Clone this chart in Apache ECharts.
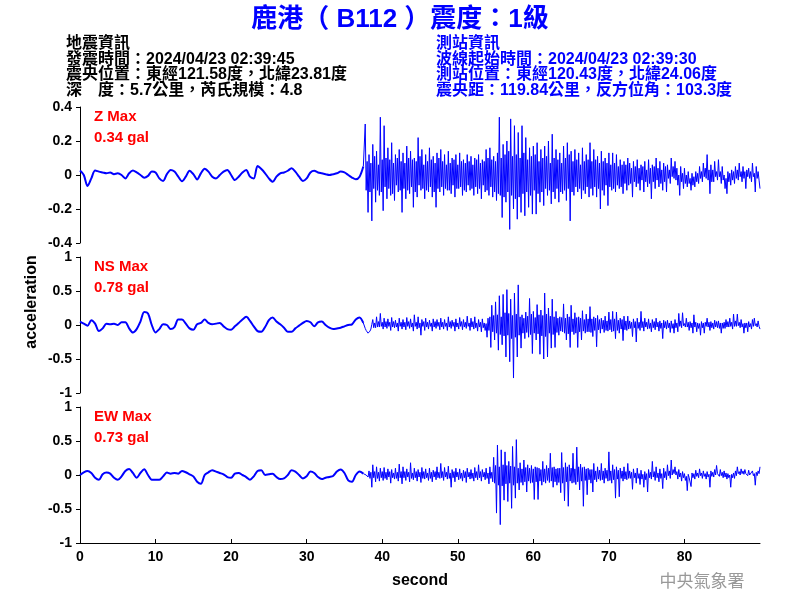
<!DOCTYPE html>
<html>
<head>
<meta charset="utf-8">
<script src="https://cdn.jsdelivr.net/npm/echarts@6/dist/echarts.min.js"></script>
<style>html,body{margin:0;padding:0;background:#fff;}#chart{width:800px;height:600px;}</style>
</head>
<body>
<div id="chart"></div>
<script>
// ---------- DATA (gal) ----------
// quiet pre-event segment: samples every 0.5 s from 0 s to 37.5 s
const quietStart = 0, quietStep = 0.5;
// strong-motion segment: samples every 0.125 s from 37.75 s to 90 s
const activeStart = 37.75, activeStep = 0.125;

const zQuiet = [0.026,0.0,-0.065,-0.02,0.026,0.02,0.015,0.01,0.015,0.005,
 0.01,0.0,-0.02,0.01,0.026,0.015,0.0,-0.016,-0.005,0.02,
 0.015,-0.02,-0.035,0.005,0.03,0.02,-0.01,-0.037,-0.01,0.025,
 0.005,-0.026,0.01,0.037,0.02,-0.01,-0.02,0.0,0.02,0.03,
 0.0,-0.03,-0.01,0.015,0.03,-0.01,-0.02,0.053,0.035,0.01,
 -0.02,-0.04,-0.01,0.01,0.015,0.025,0.04,0.02,-0.01,-0.035,
 -0.02,0.015,0.025,0.015,0.01,0.005,0.0,0.005,0.01,0.02,
 0.015,0.0,-0.015,-0.025,-0.01,0.05];
const zActive = [
 0.30,-0.09,0.08,-0.22,0.12,-0.10,0.07,-0.27,0.18,-0.08,0.11,-0.16,0.14,-0.09,0.06,-0.12,0.34,-0.10,0.09,-0.21,0.29,-0.07,0.10,-0.14,0.16,-0.08,0.09,-0.12,0.19,-0.11,0.07,-0.15,0.12,-0.06,0.10,-0.10,0.15,-0.09,0.08,-0.22,
 0.13,-0.08,0.07,-0.14,0.17,-0.09,0.10,-0.11,0.14,-0.07,0.09,-0.19,0.10,-0.10,0.08,-0.13,0.22,-0.06,0.11,-0.09,0.15,-0.08,0.06,-0.14,0.12,-0.09,0.08,-0.10,0.16,-0.07,0.09,-0.13,0.11,-0.10,0.07,-0.19,0.13,-0.08,0.10,-0.10,
 0.15,-0.07,0.08,-0.12,0.12,-0.08,0.06,-0.09,0.14,-0.09,0.07,-0.11,0.10,-0.06,0.09,-0.13,0.12,-0.08,0.06,-0.08,0.13,-0.07,0.08,-0.12,0.09,-0.09,0.07,-0.10,0.12,-0.06,0.08,-0.09,0.11,-0.08,0.06,-0.12,0.10,-0.07,0.09,-0.11,
 0.12,-0.08,0.07,-0.14,0.09,-0.06,0.08,-0.10,0.15,-0.09,0.10,-0.12,0.16,-0.07,0.09,-0.13,0.11,-0.10,0.08,-0.15,0.13,-0.11,0.34,-0.12,0.10,-0.25,0.18,-0.13,0.12,-0.16,0.20,-0.10,0.14,-0.32,0.33,-0.12,0.11,-0.20,0.29,-0.14,
 0.12,-0.26,0.25,-0.13,0.10,-0.22,0.29,-0.11,0.13,-0.24,0.22,-0.10,0.09,-0.19,0.16,-0.12,0.11,-0.23,0.17,-0.09,0.12,-0.23,0.19,-0.11,0.08,-0.16,0.15,-0.10,0.10,-0.18,0.17,-0.08,0.11,-0.12,0.20,-0.09,0.07,-0.17,0.24,-0.10,
 0.10,-0.14,0.15,-0.08,0.09,-0.16,0.13,-0.10,0.07,-0.11,0.17,-0.09,0.10,-0.15,0.19,-0.08,0.12,-0.27,0.14,-0.10,0.08,-0.12,0.15,-0.07,0.09,-0.10,0.13,-0.08,0.06,-0.14,0.16,-0.09,0.08,-0.11,0.12,-0.07,0.09,-0.13,0.19,-0.08,
 0.08,-0.12,0.15,-0.07,0.09,-0.13,0.11,-0.08,0.07,-0.20,0.14,-0.09,0.08,-0.12,0.10,-0.06,0.07,-0.18,0.13,-0.07,0.06,-0.09,0.13,-0.08,0.07,-0.10,0.12,-0.06,0.05,-0.08,0.09,-0.07,0.06,-0.11,0.08,-0.05,0.06,-0.09,0.10,-0.06,
 0.07,-0.05,0.04,-0.13,0.08,-0.04,0.05,-0.07,0.09,-0.05,0.04,-0.09,0.06,-0.03,0.05,-0.10,0.08,-0.04,0.03,-0.07,0.09,-0.05,0.04,-0.14,0.06,-0.04,0.05,-0.08,0.10,-0.03,0.04,-0.07,0.08,-0.05,0.03,-0.09,0.07,-0.04,0.05,-0.10,
 0.06,-0.02,0.03,-0.05,0.10,-0.01,0.05,-0.02,0.08,-0.03,0.04,-0.06,0.00,-0.12,0.05,-0.04,0.01,-0.08,0.04,-0.05,0.00,-0.07,0.02,-0.05,-0.02,-0.09,0.01,-0.06,-0.01,-0.07,0.02,-0.04,0.01,-0.05,0.05,-0.02,0.02,-0.04,0.07,-0.01,
 0.04,-0.02,0.12,-0.03,0.03,-0.11,0.06,-0.04,0.03,-0.04,0.08,-0.01,0.02,-0.03,0.09,-0.01,0.02,-0.05,0.05,-0.03,0.00,-0.08,-0.02,-0.11,0.02,-0.04,0.01,-0.06,0.03,-0.03,0.02,-0.05,0.05,-0.02,0.03,-0.03,0.07,-0.01,0.02,-0.04,
 0.05,-0.02,0.02,-0.08,0.03,-0.01,0.04,-0.02,0.02,-0.04,0.07,-0.01,0.01,-0.10,0.05,-0.02,0.02,-0.03,-0.08];

const nsQuiet = [0.05,0.02,-0.01,0.07,0.02,-0.09,-0.05,0.02,0.01,0.02,
 0.0,0.04,0.04,-0.05,-0.11,-0.06,0.05,0.19,0.17,0.0,
 -0.11,-0.06,0.01,0.0,-0.06,-0.03,0.08,0.08,0.02,-0.05,
 -0.07,0.01,0.03,0.08,0.03,0.01,0.02,0.03,-0.02,-0.06,
 -0.07,-0.02,0.03,0.08,0.12,0.06,-0.02,-0.09,-0.10,-0.03,
 0.07,0.11,0.05,0.01,-0.04,-0.10,-0.10,-0.05,-0.01,0.03,
 0.06,0.04,-0.02,0.04,0.05,0.0,-0.04,-0.06,-0.05,-0.04,
 -0.02,0.0,0.01,0.08,0.11,0.03];
const nsActive = [
 -0.05,-0.08,-0.10,-0.12,-0.12,-0.09,-0.06,0.01,0.08,-0.04,0.03,-0.04,0.12,-0.03,0.05,-0.03,0.17,-0.02,0.04,-0.06,0.10,-0.03,0.05,-0.05,0.09,-0.02,0.04,-0.08,0.11,-0.03,0.05,-0.04,0.07,-0.03,0.03,-0.09,0.10,-0.02,0.04,-0.06,
 0.08,-0.03,0.04,-0.07,0.11,-0.02,0.05,-0.05,0.09,-0.03,0.03,-0.09,0.15,-0.02,0.04,-0.06,0.12,-0.04,0.03,-0.15,0.08,-0.02,0.05,-0.08,0.10,-0.03,0.04,-0.06,0.07,-0.02,0.03,-0.09,0.09,-0.03,0.05,-0.05,0.08,-0.02,0.04,-0.07,
 0.10,-0.03,0.04,-0.06,0.08,-0.02,0.03,-0.08,0.12,-0.03,0.05,-0.05,0.07,-0.02,0.04,-0.09,0.09,-0.03,0.03,-0.06,0.11,-0.02,0.05,-0.07,0.08,-0.03,0.04,-0.05,0.13,-0.02,0.03,-0.08,0.10,-0.03,0.05,-0.06,0.12,-0.04,0.03,-0.09,
 0.08,-0.03,0.04,-0.10,0.09,-0.04,0.03,-0.08,0.02,-0.18,0.10,-0.08,0.12,-0.33,0.29,-0.10,0.14,-0.22,0.34,-0.12,0.15,-0.37,0.43,-0.14,0.12,-0.29,0.45,-0.16,0.18,-0.47,0.52,-0.15,0.17,-0.54,0.38,-0.20,0.14,-0.78,0.47,-0.18,
 0.16,-0.47,0.59,-0.15,0.12,-0.34,0.15,-0.12,0.10,-0.20,0.19,-0.11,0.13,-0.18,0.39,-0.14,0.16,-0.42,0.20,-0.12,0.11,-0.22,0.30,-0.13,0.15,-0.43,0.22,-0.16,0.14,-0.50,0.47,-0.17,0.16,-0.47,0.25,-0.12,0.13,-0.34,0.38,-0.14,
 0.12,-0.33,0.20,-0.11,0.10,-0.15,0.12,-0.09,0.11,-0.10,0.31,-0.12,0.10,-0.22,0.16,-0.13,0.12,-0.33,0.29,-0.10,0.09,-0.14,0.18,-0.12,0.11,-0.33,0.12,-0.10,0.10,-0.22,0.21,-0.09,0.08,-0.12,0.16,-0.10,0.09,-0.10,0.27,-0.11,
 0.09,-0.17,0.12,-0.08,0.10,-0.32,0.14,-0.07,0.08,-0.12,0.10,-0.06,0.07,-0.11,0.13,-0.08,0.06,-0.09,0.19,-0.07,0.08,-0.10,0.20,-0.09,0.09,-0.20,0.19,-0.08,0.07,-0.12,0.10,-0.06,0.08,-0.23,0.13,-0.07,0.06,-0.08,0.13,-0.06,
 0.06,-0.05,0.04,-0.17,0.09,-0.04,0.05,-0.25,0.10,-0.05,0.04,-0.08,0.20,-0.04,0.05,-0.09,0.10,-0.03,0.04,-0.06,0.09,-0.05,0.03,-0.10,0.08,-0.04,0.05,-0.07,0.10,-0.03,0.04,-0.09,0.06,-0.05,0.03,-0.20,0.07,-0.04,0.05,-0.06,
 0.07,-0.04,0.03,-0.11,0.06,-0.05,0.02,-0.12,0.08,-0.04,0.03,-0.10,0.17,-0.02,0.06,-0.04,0.18,-0.01,0.02,-0.03,0.10,-0.03,0.04,-0.08,0.05,-0.04,0.03,-0.12,0.15,-0.03,0.04,-0.10,0.03,-0.05,0.02,-0.15,0.05,-0.04,0.03,-0.12,
 0.04,-0.02,0.10,-0.03,0.04,-0.08,0.05,-0.04,0.03,-0.06,0.07,-0.03,0.05,-0.04,0.06,-0.05,0.03,-0.12,0.03,-0.05,0.04,-0.05,0.08,-0.03,0.05,-0.03,0.10,-0.02,0.04,-0.06,0.16,-0.02,0.06,-0.02,0.16,-0.01,0.04,-0.04,0.08,-0.03,
 0.02,-0.12,0.03,-0.04,0.03,-0.10,0.05,-0.03,0.02,-0.06,0.08,-0.02,0.10,-0.01,0.02,-0.03,0.06,-0.02,-0.06];

const ewQuiet = [0.0,0.04,0.06,0.03,-0.04,-0.07,0.01,0.035,0.02,-0.04,
 -0.07,-0.02,0.06,0.09,0.03,-0.04,0.03,0.085,0.0,-0.07,
 -0.07,-0.07,-0.02,0.035,0.02,0.03,0.02,0.06,0.04,0.01,
 -0.02,-0.10,-0.13,0.0,0.04,0.07,0.05,0.03,0.01,-0.03,
 -0.04,0.02,0.03,0.0,-0.03,-0.07,-0.02,0.06,0.07,0.0,
 0.01,0.02,-0.03,-0.06,-0.05,0.0,0.07,0.05,0.0,-0.05,
 -0.02,0.05,0.03,-0.03,-0.06,-0.04,-0.03,-0.015,0.05,0.08,
 0.03,-0.08,-0.10,0.0,0.05,0.02];
const ewActive = [
 0.01,0.00,-0.01,-0.03,0.06,-0.05,0.04,-0.18,0.15,-0.04,0.05,-0.10,0.12,-0.05,0.04,-0.09,0.10,-0.04,0.05,-0.08,0.11,-0.05,0.04,-0.07,0.09,-0.03,0.05,-0.12,0.08,-0.04,0.03,-0.06,0.10,-0.05,0.04,-0.09,0.16,-0.04,0.05,-0.13,
 0.12,-0.04,0.05,-0.08,0.09,-0.03,0.04,-0.10,0.18,-0.05,0.03,-0.07,0.10,-0.04,0.05,-0.09,0.08,-0.03,0.04,-0.11,0.11,-0.05,0.05,-0.06,0.09,-0.04,0.03,-0.08,0.10,-0.05,0.04,-0.10,0.07,-0.03,0.05,-0.07,0.12,-0.04,0.04,-0.05,
 0.17,-0.04,0.05,-0.08,0.11,-0.03,0.04,-0.06,0.13,-0.05,0.03,-0.18,0.08,-0.04,0.05,-0.10,0.10,-0.03,0.04,-0.07,0.09,-0.05,0.03,-0.09,0.07,-0.04,0.05,-0.11,0.10,-0.03,0.04,-0.06,0.08,-0.05,0.03,-0.09,0.11,-0.04,0.05,-0.07,
 0.15,-0.04,0.05,-0.09,0.08,-0.03,0.04,-0.07,0.10,-0.05,0.03,-0.13,0.12,-0.05,0.04,-0.10,0.26,-0.12,0.14,-0.56,0.44,-0.15,0.12,-0.73,0.37,-0.16,0.15,-0.37,0.34,-0.13,0.14,-0.39,0.20,-0.12,0.13,-0.49,0.42,-0.15,0.12,-0.34,
 0.52,-0.12,0.10,-0.22,0.18,-0.11,0.09,-0.15,0.22,-0.10,0.11,-0.25,0.15,-0.09,0.10,-0.12,0.14,-0.11,0.09,-0.36,0.12,-0.10,0.11,-0.36,0.10,-0.09,0.08,-0.15,0.20,-0.10,0.09,-0.12,0.14,-0.08,0.10,-0.11,0.32,-0.09,0.11,-0.18,
 0.12,-0.10,0.09,-0.15,0.10,-0.11,0.10,-0.26,0.33,-0.12,0.11,-0.38,0.18,-0.10,0.12,-0.46,0.15,-0.09,0.10,-0.12,0.32,-0.11,0.09,-0.14,0.41,-0.10,0.12,-0.22,0.16,-0.09,0.11,-0.46,0.12,-0.08,0.09,-0.29,0.10,-0.07,0.08,-0.12,
 0.08,-0.25,0.17,-0.07,0.06,-0.10,0.12,-0.06,0.07,-0.08,0.17,-0.07,0.06,-0.12,0.10,-0.05,0.07,-0.09,0.34,-0.08,0.06,-0.12,0.15,-0.07,0.08,-0.34,0.12,-0.06,0.07,-0.32,0.10,-0.05,0.06,-0.09,0.12,-0.06,0.05,-0.07,0.17,-0.05,
 0.06,-0.05,0.04,-0.21,0.09,-0.04,0.03,-0.12,0.10,-0.05,0.02,-0.14,0.07,-0.06,0.01,-0.18,0.05,-0.07,0.02,-0.25,0.08,-0.04,0.04,-0.06,0.20,-0.03,0.05,-0.08,0.12,-0.04,0.03,-0.10,0.09,-0.05,0.02,-0.20,0.10,-0.04,0.05,-0.07,
 0.15,-0.01,0.06,-0.05,0.22,0.00,0.08,0.02,0.12,0.00,0.05,-0.06,0.08,-0.03,0.03,-0.09,0.05,-0.04,0.02,-0.08,-0.02,-0.23,0.01,-0.04,-0.03,-0.17,0.03,-0.04,0.02,-0.06,0.07,-0.02,0.03,-0.04,0.09,-0.01,0.03,-0.05,0.06,-0.02,
 0.02,-0.06,0.05,-0.03,0.01,-0.18,0.06,-0.02,0.04,-0.03,0.08,0.00,0.14,0.02,0.03,-0.02,0.08,-0.01,0.04,-0.04,0.06,-0.03,0.03,-0.06,0.02,-0.04,0.00,-0.18,0.01,-0.04,0.03,-0.05,0.06,-0.01,0.12,0.02,0.05,0.00,0.09,0.02,
 0.06,0.01,0.08,0.02,0.03,-0.01,0.07,0.00,0.02,-0.02,0.06,-0.01,0.02,-0.15,0.04,-0.01,0.06,0.02,0.12];

const yTicksZ = {min: -0.4, max: 0.4, interval: 0.2};
const yTicksH = {min: -1, max: 1, interval: 0.5};
const xTickValues = [0, 10, 20, 30, 40, 50, 60, 70, 80];
const xRange = {min: 0, max: 90};

const titleText = '鹿港（ B112 ）震度：1級';
const quakeInfo = ['地震資訊', '發震時間：2024/04/23 02:39:45', '震央位置：東經121.58度，北緯23.81度', '深　度：5.7公里，芮氏規模：4.8'];
const stationInfo = ['測站資訊', '波線起始時間：2024/04/23 02:39:30', '測站位置：東經120.43度，北緯24.06度', '震央距：119.84公里，反方位角：103.3度'];
const maxLabels = [['Z Max', '0.34 gal'], ['NS Max', '0.78 gal'], ['EW Max', '0.73 gal']];

// ---------- BUILD ----------
function toPairs(start, step, vals) {
  return vals.map((v, i) => [Math.round((start + i * step) * 1000) / 1000, v]);
}
const FONT = '"Liberation Sans", Arial, "Noto Sans CJK TC", sans-serif';
const BLUE = '#0000FF';

const gridTops = [107, 257, 407];
const grids = gridTops.map(t => ({left: 80, top: t, width: 680, height: 136}));

const xAxes = [0, 1, 2].map(i => ({
  type: 'value', gridIndex: i, min: xRange.min, max: xRange.max,
  show: i === 2,
  axisLine: {show: true, onZero: false, lineStyle: {color: '#000', width: 1}},
  axisTick: {show: true, inside: true, length: 4, customValues: xTickValues, lineStyle: {color: '#000'}},
  axisLabel: {customValues: xTickValues, color: '#000', fontWeight: 'bold', fontSize: 14, fontFamily: FONT, margin: 7},
  splitLine: {show: false},
  name: i === 2 ? 'second' : '', nameLocation: 'middle', nameGap: 30,
  nameTextStyle: {color: '#000', fontWeight: 'bold', fontSize: 16, fontFamily: FONT}
}));

const yAxes = [yTicksZ, yTicksH, yTicksH].map((r, i) => ({
  type: 'value', gridIndex: i, min: r.min, max: r.max, interval: r.interval,
  axisLine: {show: true, onZero: false, lineStyle: {color: '#000', width: 1}},
  axisTick: {show: true, length: 4, lineStyle: {color: '#000'}},
  axisLabel: {color: '#000', fontWeight: 'bold', fontSize: 14, fontFamily: FONT, margin: 8},
  splitLine: {show: false}
}));

const sets = [[zQuiet, zActive], [nsQuiet, nsActive], [ewQuiet, ewActive]];
const series = [];
sets.forEach(([q, a], i) => {
  const qData = toPairs(quietStart, quietStep, q);
  series.push({type: 'line', xAxisIndex: i, yAxisIndex: i, data: qData, symbol: 'none',
    smooth: 0.3, lineStyle: {color: BLUE, width: 2}, silent: true, animation: false});
  series.push({type: 'line', xAxisIndex: i, yAxisIndex: i,
    data: [qData[qData.length - 1]].concat(toPairs(activeStart, activeStep, a)), symbol: 'none',
    lineStyle: {color: BLUE, width: 1}, silent: true, animation: false});
});

const textEl = (x, y, text, font, fill, align) => ({
  type: 'text', x: x, y: y, silent: true,
  style: {text: text, font: font, fill: fill, align: align || 'left', verticalAlign: 'middle',
          textAlign: align || 'left', textVerticalAlign: 'middle'}
});

const infoY = [44, 59.5, 75, 90.5];
const graphics = [];
graphics.push(textEl(400, 20, titleText, 'bold 26px ' + FONT, BLUE, 'center'));
quakeInfo.forEach((t, i) => graphics.push(textEl(66, infoY[i], t, 'bold 16px ' + FONT, '#000')));
stationInfo.forEach((t, i) => graphics.push(textEl(436, infoY[i], t, 'bold 16px ' + FONT, BLUE)));
maxLabels.forEach((pair, i) => {
  graphics.push(textEl(94, gridTops[i] + 10, pair[0], 'bold 15px ' + FONT, '#FF0000'));
  graphics.push(textEl(94, gridTops[i] + 31, pair[1], 'bold 15px ' + FONT, '#FF0000'));
});
graphics.push({type: 'text', x: 32, y: 302, rotation: Math.PI / 2, silent: true,
  style: {text: 'acceleration', font: 'bold 16px ' + FONT, fill: '#000', align: 'center', verticalAlign: 'middle',
          textAlign: 'center', textVerticalAlign: 'middle'}});
graphics.push(textEl(702, 581, '中央氣象署', '17px "Noto Sans CJK TC", sans-serif', '#999999', 'center'));

const chart = echarts.init(document.getElementById('chart'), null, {renderer: 'canvas'});
chart.setOption({
  animation: false,
  backgroundColor: '#fff',
  grid: grids,
  xAxis: xAxes,
  yAxis: yAxes,
  series: series,
  graphic: graphics
});
</script>
</body>
</html>
